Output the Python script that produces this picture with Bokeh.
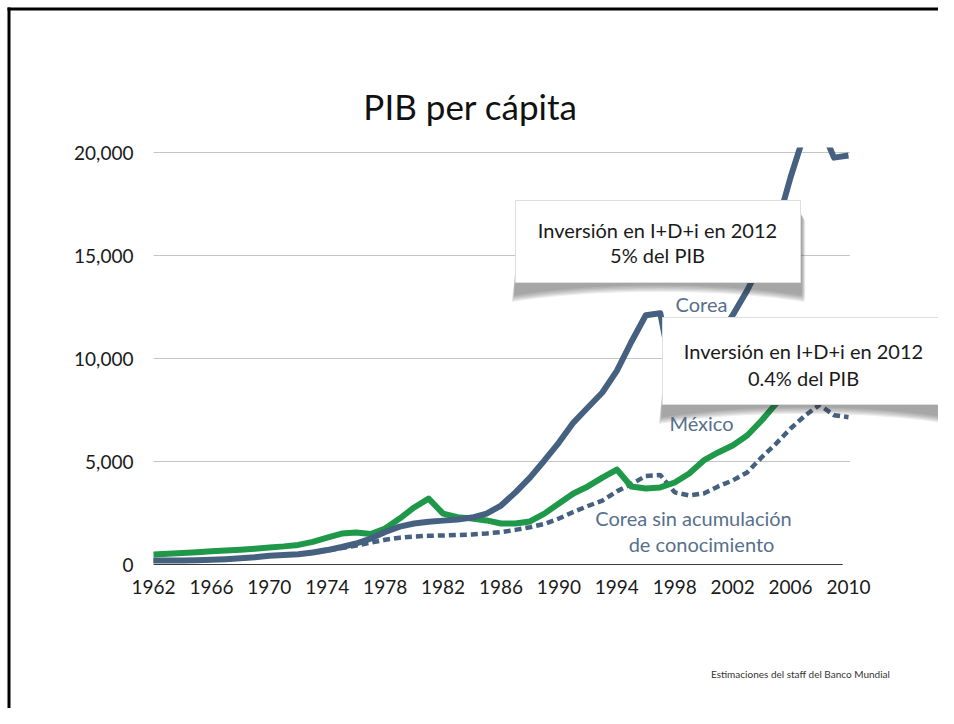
from bokeh.plotting import figure
from bokeh.models import Range1d, LinearAxis, FixedTicker, NumeralTickFormatter
from bokeh.core.properties import value
from bokeh.embed import file_html
from bokeh.resources import INLINE

# ---------------- data ----------------
years = list(range(1962, 2011))

corea = [190, 190, 195, 205, 225, 260, 300, 350, 420, 460,
         500, 580, 700, 850, 1020, 1260, 1580, 1840, 1990, 2080,
         2130, 2180, 2280, 2470, 2860, 3500, 4220, 5050, 5920, 6890,
         7620, 8350, 9400, 10800, 12100, 12200, 8600, 10000, 11200, 11000,
         12100, 13300, 14700, 16300, 18800, 21000, 21400, 19750, 19850]

mexico = [490, 520, 560, 600, 640, 680, 720, 770, 830, 880,
          950, 1100, 1300, 1500, 1550, 1480, 1750, 2230, 2770, 3200,
          2470, 2300, 2230, 2140, 1990, 1990, 2090, 2470, 2960, 3450,
          3790, 4220, 4610, 3790, 3690, 3740, 3980, 4420, 5050, 5440,
          5780, 6260, 6990, 7810, 8600, 9200, 9600, 8100, 9000]

corea_sin = [190, 190, 195, 205, 225, 260, 300, 350, 420, 460,
             500, 570, 680, 800, 920, 1060, 1200, 1300, 1360, 1390,
             1410, 1430, 1460, 1510, 1570, 1680, 1810, 1970, 2230, 2550,
             2840, 3100, 3550, 3900, 4300, 4350, 3500, 3350, 3450, 3790,
             4080, 4470, 5200, 5870, 6600, 7230, 7750, 7250, 7150]

x_ticks = [1962, 1966, 1970, 1974, 1978, 1982, 1986, 1990, 1994, 1998, 2002, 2006, 2010]
y_ticks = [0, 5000, 10000, 15000, 20000]

title_text = "PIB per cápita"
box1_lines = ["Inversión en I+D+i en 2012", "5% del PIB"]
box2_lines = ["Inversión en I+D+i en 2012", "0.4% del PIB"]
label_corea = "Corea"
label_mexico = "México"
label_sin = ["Corea sin acumulación", "de conocimiento"]
source_text = "Estimaciones del staff del Banco Mundial"

# ---------------- layout helpers (picture pixels -> data) ----------------
W, H = 938, 708
X0PX, PXYR = 153.0, 14.479
Y0PX, PXUNIT = 564.0, 103.0 / 5000.0


def X(px):
    return 1962 + (px - X0PX) / PXYR


def Y(py):
    return (Y0PX - py) / PXUNIT


FONT = value("Lato")
C_COREA = "#46617f"
C_MEX = "#1f984a"
C_LABEL = "#56708c"

p = figure(width=W, height=H, output_backend="svg", toolbar_location=None,
           x_range=Range1d(X(0), X(W)),
           y_range=Range1d(Y(H), Y(0)),
           x_axis_type=None, y_axis_type=None, min_border=0)
p.outline_line_color = None
p.background_fill_color = "white"
p.border_fill_color = "white"

# axes drawn inside the frame
xaxis = LinearAxis(fixed_location=0, ticker=FixedTicker(ticks=x_ticks),
                   formatter=NumeralTickFormatter(format="0"),
                   axis_line_color=None, major_tick_line_color=None,
                   minor_tick_line_color=None, major_tick_out=0, major_tick_in=0,
                   major_label_standoff=15, major_label_text_font="Lato",
                   major_label_text_font_size="19px",
                   major_label_text_color="#1a1a1a")
p.add_layout(xaxis, "below")
yaxis = LinearAxis(fixed_location=years[0], ticker=FixedTicker(ticks=y_ticks),
                   formatter=NumeralTickFormatter(format="0,0"),
                   axis_line_color=None, major_tick_line_color=None,
                   minor_tick_line_color=None, major_tick_out=0, major_tick_in=0,
                   major_label_standoff=20, major_label_text_font="Lato",
                   major_label_text_font_size="19px",
                   major_label_text_color="#1a1a1a")
p.add_layout(yaxis, "left")

# gridlines and baseline
grid_y = [t for t in y_ticks if t > 0]
p.segment(x0=[years[0]] * len(grid_y), x1=[years[-1] + 0.1] * len(grid_y),
          y0=grid_y, y1=grid_y, line_color="#c4c4c4", line_width=1)
p.segment(x0=[years[0]], x1=[years[-1] - 0.4], y0=[0], y1=[0],
          line_color="#3a3a3a", line_width=1.2)

# series
p.line(years, corea_sin, line_color=C_COREA, line_width=4.5, line_dash="7 4")
p.line(years, mexico, line_color=C_MEX, line_width=6, line_join="round")
p.line(years, corea, line_color=C_COREA, line_width=6, line_join="round")


# annotation boxes with soft curved shadows
def shadow(l, t, r, b):
    for k in range(6):
        g = k * 1.3
        pts = [(l + 6, t + 12), (r - 2, t + 12),
               (r + 1.5 + g * 0.5, t + 14 + g), (r + 1.5 + g * 0.5, b + 8 + g)]
        n = 30
        for i in range(n + 1):
            f = i / n
            xx = (r + 1 + g * 0.4) - f * (r - l + 2 + g * 0.8)
            yy = b + 3 + g + 10 * abs(2 * f - 1) ** 2.2
            pts.append((xx, yy))
        pts.append((l - 1 - g * 0.3, b + 6 + g))
        p.patch([X(a) for a, _ in pts], [Y(c) for _, c in pts],
                fill_color="#2e2e2e", fill_alpha=0.085, line_color=None)


def box(l, t, r, b, lines, cx, ys):
    shadow(l, t, r, b)
    p.quad(left=[X(l)], right=[X(r)], top=[Y(t)], bottom=[Y(b)],
           fill_color="white", line_color="#dedede", line_width=1)
    p.text(x=[X(cx)] * len(lines), y=[Y(v) for v in ys], text=lines,
           text_font=FONT, text_font_size="20px", text_color="#1a1a1a",
           text_align="center", text_baseline="middle")


box(515, 200, 800, 282, box1_lines, 657, [229, 254])
box(662, 317, 945, 404, box2_lines, 803, [350, 377])

# series labels
p.text(x=[X(701)], y=[Y(303)], text=[label_corea], text_font=FONT,
       text_font_size="20px", text_color=C_LABEL, text_align="center",
       text_baseline="middle")
p.text(x=[X(701)], y=[Y(422)], text=[label_mexico], text_font=FONT,
       text_font_size="20px", text_color=C_LABEL, text_align="center",
       text_baseline="middle")
p.text(x=[X(693), X(701)], y=[Y(517), Y(543)], text=label_sin, text_font=FONT,
       text_font_size="20px", text_color=C_LABEL, text_align="center",
       text_baseline="middle")

# the slide clips the chart just above 20,000
p.quad(left=[X(0)], right=[X(W)], bottom=[Y(147)], top=[Y(0)],
       fill_color="white", line_color=None)

# title and source
p.text(x=[X(470)], y=[Y(105)], text=[title_text], text_font=FONT,
       text_font_size="35px", text_color="#111111", text_align="center",
       text_baseline="middle")
p.text(x=[X(800)], y=[Y(673)], text=[source_text], text_font=FONT,
       text_font_size="10px", text_color="#333333", text_align="center",
       text_baseline="middle")

# slide border (top and left)
p.segment(x0=[X(7), X(8.5)], x1=[X(W), X(8.5)],
          y0=[Y(8.5), Y(7)], y1=[Y(8.5), Y(H)],
          line_color="black", line_width=3)

open("out.html", "w").write(file_html(p, INLINE))
